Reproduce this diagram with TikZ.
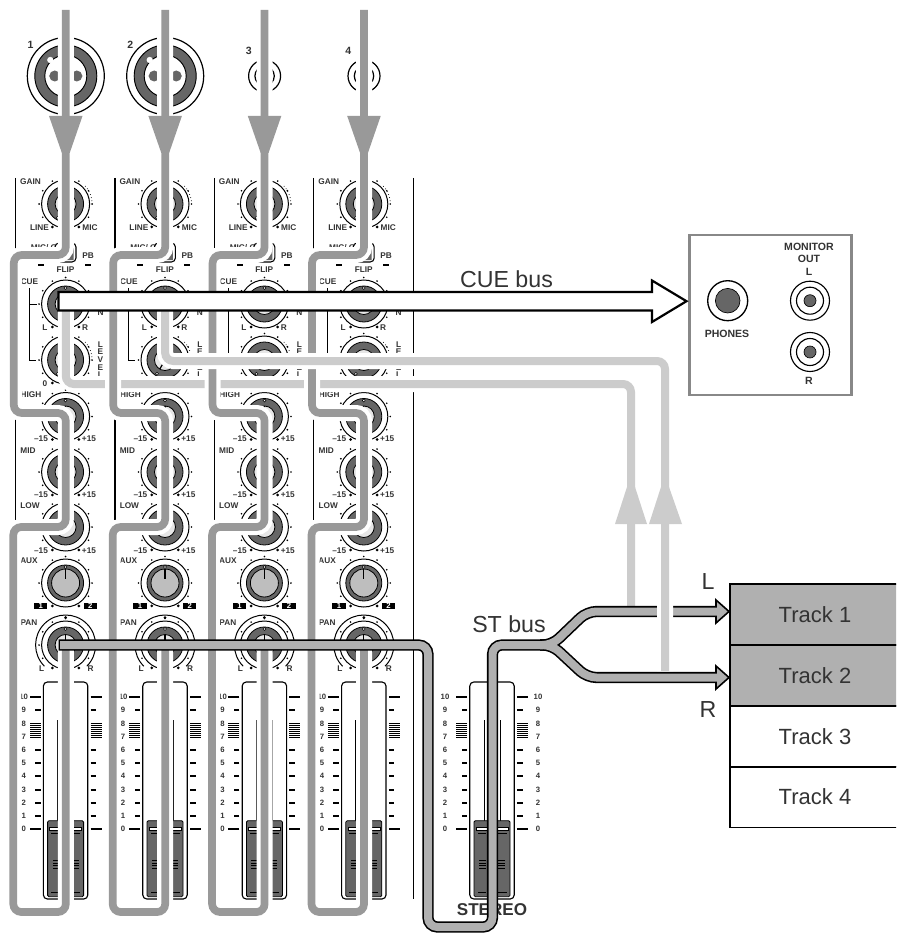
\documentclass[tikz,border=0pt]{standalone}
\usepackage{fontspec}
\setmainfont{Liberation Sans}
\usepackage{xcolor}
\definecolor{siggray}{RGB}{153,153,153}
\definecolor{busgray}{RGB}{204,204,204}
\definecolor{stgray}{RGB}{176,176,176}
\definecolor{knobdark}{RGB}{102,102,102}
\definecolor{knobface}{RGB}{230,230,230}
\definecolor{auxface}{RGB}{190,190,190}
\definecolor{labtext}{RGB}{51,51,51}
\definecolor{boxgray}{RGB}{136,136,136}
\usepackage{tikz}
\tikzset{
  lab/.style={font=\fontsize{6.2}{7}\selectfont\bfseries, text=labtext, inner sep=0pt},
  num/.style={font=\fontsize{5.8}{7}\selectfont\bfseries, text=labtext, inner sep=0pt},
  biglab/.style={font=\fontsize{7.9}{9}\selectfont\bfseries, text=labtext, inner sep=0pt},
  buslab/.style={font=\fontsize{17.4}{20}\selectfont, text=labtext, inner sep=0pt},
  tracklab/.style={draw=black, line width=0.9pt, minimum width=127.5pt, minimum height=45.75pt,
    inner sep=0pt, font=\fontsize{16.5}{19}\selectfont, text=labtext},
  tag/.style={fill=black, text=white, font=\fontsize{5.8}{7}\selectfont\bfseries, inner sep=0pt,
    minimum width=10pt, minimum height=5.2pt},
  sigline/.style={draw=siggray, line width=5.8pt, rounded corners=6pt,
    preaction={draw=white, line width=12pt}},
  busline/.style={draw=busgray, line width=6pt, rounded corners=6pt,
    preaction={draw=white, line width=12pt}},
  stouter/.style={draw=black, line width=8.4pt, rounded corners=7pt},
  stinner/.style={draw=stgray, line width=6pt, rounded corners=7pt},
  sthead/.style={fill=stgray, draw=black, line width=1.2pt},
  thick line/.style={line width=1.5pt},
  thin tick/.style={line width=0.8pt}
}
% knob: x, y, face radius, face colour, pointer angle
\newcommand{\knob}[5]{%
  \begin{scope}[shift={(#1,#2)}]
    \draw[line width=0.75pt] (0,0) circle (24);
    \foreach \a in {-210,-180,...,30} \fill (\a:26.5) circle (0.9);
    \fill (60:26.5) circle (1.5);
    \fill (-240:26.5) circle (1.5);
    \filldraw[fill=knobdark, line width=0.6pt] (0,0) circle (18);
    \filldraw[fill=#4, line width=0.6pt] (0,0) circle (#3);
    \filldraw[fill=white, line width=0.4pt] (#5:16) circle (1.5);
    \draw[line width=0.9pt] (#5:#3) -- (#5:4);
  \end{scope}}
% fader: x centre
\newcommand{\fader}[1]{%
  \begin{scope}[shift={(#1,0)}]
    \draw[line width=0.85pt, rounded corners=3pt] (-22.2,682) rectangle (22.2,899);
    \draw[line width=0.6pt] (-8,720) -- (-8,822);
    \draw[line width=0.6pt] (8,720) -- (8,822);
    \filldraw[fill=knobdark, line width=0.6pt, rounded corners=1pt] (-18,820.7) rectangle (18,896.7);
    \filldraw[fill=white, line width=0.3pt] (-16,827.5) rectangle (16,830);
    \foreach \s in {-1,1} {
      \draw[line width=0.6pt] (\s*6,833.5) -- (\s*14.5,833.5);
      \foreach \y in {860.5,863,865.5,868} \draw[line width=0.6pt] (\s*6,\y) -- (\s*13,\y);
      \draw[line width=0.6pt] (\s*6,892) -- (\s*14.5,892);
      % scale marks
      \draw[thick line] (\s*25,697) -- (\s*36,697);
      \draw[thick line] (\s*25,829) -- (\s*36,829);
      \foreach \y in {710,750,763,776,790,803,816} \draw[thin tick] (\s*25,\y) -- (\s*30.5,\y);
      \foreach \y in {723,725,...,737} \draw[line width=0.6pt] (\s*25,\y) -- (\s*36,\y);
    }
  \end{scope}}

\begin{document}
\begin{tikzpicture}[x=0.75pt, y=-0.75pt]
  \path[use as bounding box, clip] (0,0) rectangle (896,934);

  % Input jacks
  \foreach \ch in {1,2} {
    \begin{scope}[shift={({65.8+99.4*(\ch-1)},76)}]
      \draw[line width=0.9pt] (0,0) circle (38.5);
      \filldraw[fill=knobdark, line width=0.7pt, even odd rule] (0,0) circle (31) (0,0) circle (21);
      \filldraw[fill=white, draw=white] (-15.5,-16) circle (2.8);
      \fill[knobdark] (-11,0) circle (5.5);
      \fill[knobdark] (11,0) circle (5.5);
      \fill[knobdark] (-17,0) -- (-10,-3) -- (-10,3) -- cycle;
      \fill[knobdark] (17,0) -- (10,-3) -- (10,3) -- cycle;
    \end{scope}
    \node[biglab] (jack\ch) at ({30.6+99.6*(\ch-1)},44.5) {\ch};
  }
  \foreach \ch in {3,4} {
    \draw[line width=0.9pt] ({65.8+99.4*(\ch-1)},76) circle (16);
    \draw[line width=0.9pt] ({65.8+99.4*(\ch-1)},76) circle (9.7);
    \node[biglab] (jack\ch) at ({50+99.4*(\ch-1)},50.5) {\ch};
  }

  % Channel strips
  \foreach \ch in {0,...,3} {
    \begin{scope}[xshift=\ch*74.55pt]
      \draw[line width=0.9pt] (15.5,178) -- (15.5,905);
      \node[lab] (gain\ch) at (30.5,182) {GAIN};
      \knob{65.6}{204}{10.5}{knobface}{120}
      \foreach \a in {-42,-35,...,-7} \fill (65.6,204) ++(\a:26.5) circle (0.5);
      \node[lab] (line\ch) at (39.5,228) {LINE};
      \node[lab] (mic\ch) at (90,228) {MIC};
      \node[lab, anchor=west] (micg\ch) at (30.7,247.5) {MIC/ G};
      % flip switch
      \draw[line width=0.8pt, rounded corners=3pt] (55,243) rectangle (76,262);
      \fill[knobdark] (73.5,246) -- (73.5,260) -- (59,260) -- cycle;
      \node[lab] (pb\ch) at (88,256) {PB};
      \node[lab] (flip\ch) at (65.5,270) {FLIP};
      \fill (38,264) rectangle (44,265.5);
      \fill (85,264) rectangle (91,265.5);
      % cue section
      \node[lab] (cue\ch) at (29.5,282) {CUE};
      \draw[line width=0.75pt] (29.5,288) -- (29.5,360) -- (36,360);
      \draw[line width=0.75pt] (29.5,304) -- (37,304);
      \knob{65.6}{304}{10.5}{knobface}{-90}
      \node[lab] (cuel\ch) at (45,328) {L};
      \node[lab] (cuer\ch) at (85,328) {R};
      \node[lab] (cuen\ch) at (100.5,313) {N};
      \knob{65.6}{360}{10.5}{knobface}{120}
      \foreach \a in {-42,-35,...,-7} \fill (65.6,360) ++(\a:26.5) circle (0.5);
      \node[lab] (zero\ch) at (45,384) {0};
      \foreach \y/\t [count=\i] in {345/L,351.8/E,359.3/V,367.3/E,375/L}
        \node[lab] (level\ch\i) at (100.5,\y) {\t};
      % equaliser
      \node[lab] (high\ch) at (31,395) {HIGH};
      \knob{65.6}{416.5}{10.5}{knobface}{-90}
      \node[lab] (hilo\ch) at (41,439) {--15};
      \node[lab] (hihi\ch) at (89,439) {+15};
      \node[lab] (mid\ch) at (28,451) {MID};
      \knob{65.6}{472}{10.5}{knobface}{-90}
      \node[lab] (midlo\ch) at (41,495) {--15};
      \node[lab] (midhi\ch) at (89,495) {+15};
      \node[lab] (low\ch) at (30,506) {LOW};
      \knob{65.6}{527}{10.5}{knobface}{-90}
      \node[lab] (lowlo\ch) at (41,551) {--15};
      \node[lab] (lowhi\ch) at (89,551) {+15};
      % aux
      \node[lab] (aux\ch) at (29,561) {AUX};
      \knob{65.6}{583}{14}{auxface}{-90}
      \node[tag] (auxa\ch) at (40.7,606) {1};
      \node[tag] (auxb\ch) at (90.3,606) {2};
      % pan
      \node[lab] (pan\ch) at (29,623) {PAN};
      \knob{65.6}{645}{10.5}{knobface}{-90}
      \draw[line width=0.75pt] (65.6,645) ++(45:30) arc (45:-225:30);
      \fill (65.6,617.5) circle (1.5);
      \node[lab] (panl\ch) at (41.7,669) {L};
      \node[lab] (panr\ch) at (90.7,669) {R};
      % fader
      \fader{65.6}
      \foreach \y/\t in {697/10,710/9,724/8,737/7,750/6,763/5,776/4,790/3,803/2,816/1,829/0}
        \node[num] (scale\ch\t) at (23.7,\y) {\t};
    \end{scope}
  }
  \draw[line width=0.9pt] (413.8,178) -- (413.8,899);

  % Stereo fader
  \fader{492}
  \foreach \y/\t in {697/10,710/9,724/8,737/7,750/6,763/5,776/4,790/3,803/2,816/1,829/0} {
    \node[num] (stl\t) at (445,\y) {\t};
    \node[num] (str\t) at (538,\y) {\t};
  }
  \node[font=\fontsize{12.8}{14}\selectfont\bfseries, text=labtext, inner sep=0pt] (stereo) at (492,910) {STEREO};

  % Monitor box
  \node[draw=boxgray, line width=1.6pt, fill=white, minimum width=121.5pt, minimum height=120.5pt,
        inner sep=0pt] (monitor) at (770.5,315) {};
  \draw[line width=1pt] (727.7,300.7) circle (20);
  \filldraw[fill=knobdark, line width=0.5pt] (727.7,300.7) circle (12.3);
  \node[biglab] (phones) at (727,334) {PHONES};
  \node[biglab] (monout) at (809,247) {MONITOR};
  \node[biglab] (monout2) at (809,258.5) {OUT};
  \node[biglab] (monl) at (809,272) {L};
  \foreach \y in {300.7,352} {
    \draw[line width=0.85pt] (810,\y) circle (19.5);
    \draw[line width=0.85pt] (810,\y) circle (13.5);
    \filldraw[fill=knobdark, line width=0.5pt] (810,\y) circle (6);
  }
  \node[biglab] (monr) at (809,381) {R};

  % Tracks
  \node[tracklab, fill=stgray] (track1) at (815,614.5) {Track 1};
  \node[tracklab, fill=stgray] (track2) at (815,675.5) {Track 2};
  \node[tracklab] (track3) at (815,736.5) {Track 3};
  \node[tracklab] (track4) at (815,797) {Track 4};
  \node[buslab] (trackl) at (708,582) {L};
  \node[buslab] (trackr) at (708,710) {R};

  % Left cue send, runs under the channel signals
  \coordinate (cueleft) at (65.8,305);
  \coordinate (stl) at (729,611.5);
  \coordinate (str) at (729,677.5);
  \draw[busline] (cueleft) -- (65.8,384) -- (631,384) -- (631,606);

  % Channel signals
  \foreach \ch in {0,...,3} {
    \begin{scope}[xshift=\ch*74.55pt]
      \coordinate (sigin\ch) at (65.8,10);
      \coordinate (sigout\ch) at (65.8,650);
      \draw[sigline] (sigin\ch) -- (65.8,255) -- (13.8,255) -- (13.8,413) -- (65.8,413)
        -- (65.8,527) -- (13.3,527) -- (13.3,912) -- (65.8,912) -- (sigout\ch);
      \fill[siggray] (49,116) -- (82.5,116) -- (69.7,153) -- (61.9,153) -- cycle;
    \end{scope}
  }

  % ST bus
  \coordinate (panin) at (58.5,645);
  \node[buslab] (stbus) at (509,624) {ST bus};
  \draw[stouter] (panin) -- (428,645) -- (428,927) -- (492.5,927) -- (492.5,645) -- (552,645);
  \draw[stouter] (540,645) -- (552,645) -- (587,611.5) -- (718,611.5);
  \draw[stouter] (540,645) -- (552,645) -- (587,677.5) -- (718,677.5);
  \filldraw[sthead] (716,600) -- (stl) -- (716,623) -- cycle;
  \filldraw[sthead] (716,666) -- (str) -- (716,689) -- cycle;
  \draw[stinner] (60,645) -- (428,645) -- (428,927) -- (492.5,927) -- (492.5,645) -- (552,645);
  \draw[stinner] (540,645) -- (552,645) -- (587,611.5) -- (719,611.5);
  \draw[stinner] (540,645) -- (552,645) -- (587,677.5) -- (719,677.5);

  % Right cue send, crosses over everything
  \coordinate (cueright) at (165.2,305);
  \draw[busline] (cueright) -- (165.2,361) -- (665,361) -- (665,671);
  \fill[busgray] (615,524) -- (647,524) -- (635,487) -- (627,487) -- cycle;
  \fill[busgray] (649,524) -- (682,524) -- (669,487) -- (661,487) -- cycle;

  % CUE bus
  \node[buslab] (cuebus) at (506.5,279) {CUE bus};
  \filldraw[fill=white, line width=1.65pt, miter limit=10]
    (58.5,292) -- (652,292) -- (652,280.5) -- (686.5,301.2) -- (652,322) -- (652,310.5) -- (58.5,310.5) -- cycle;
\end{tikzpicture}
\end{document}
